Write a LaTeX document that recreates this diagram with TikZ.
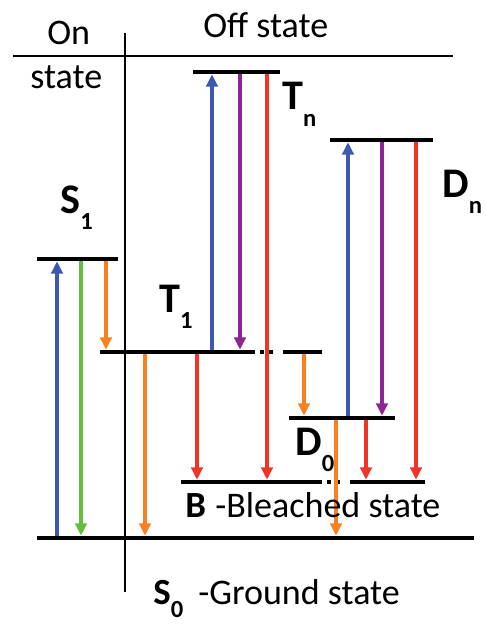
\documentclass[tikz,border=0pt]{standalone}
\usepackage{fontspec}
\setmainfont{Carlito}
\usepackage{tikz}
\usetikzlibrary{arrows.meta}
\definecolor{jab_blue}{RGB}{62,88,178}
\definecolor{jab_purple}{RGB}{140,38,150}
\definecolor{jab_red}{RGB}{240,52,38}
\definecolor{jab_orange}{RGB}{248,128,32}
\definecolor{jab_green}{RGB}{100,190,60}
\newcommand{\lowsub}[2][9.5pt]{\raisebox{-#1}{\fontsize{14}{16}\selectfont #2}}

\begin{document}
\begin{tikzpicture}[
      x=0.02cm, y=-0.02cm,
      level/.style={line width=2.6pt},
      gapline/.style={line width=2.6pt,
                      dash pattern=on 4pt off 3pt on 2pt off 3pt on 2pt off 6pt},
      arr/.style={line width=2pt, -{Triangle[length=7pt,width=6.5pt]},
                  shorten >=1.3pt, shorten <=1.3pt},
      txt/.style={font=\fontsize{20.5}{24}\selectfont, inner sep=0pt, anchor=base west},
      lab/.style={font=\bfseries\fontsize{24}{28}\selectfont, inner sep=0pt, anchor=base west},
      labsm/.style={font=\bfseries\fontsize{21}{25}\selectfont, inner sep=0pt, anchor=base west},
    ]
    \useasboundingbox (0,0) rectangle (486,625);

    % header and divider
    \draw[line width=1.1pt] (13,56) coordinate (hdw) -- (453,56) coordinate (hde);
    \draw[line width=0.8pt] (125,33) coordinate (divt) -- (125,592) coordinate (divb);
    \node[txt] (on)    at (47,45)  {On};
    \node[txt] (onst)  at (30,89)  {state};
    \node[txt] (off)   at (203,38) {Off state};

    % energy levels
    \draw[level] (37,538)  coordinate (S0w) -- (474,538) coordinate (S0e);
    \draw[level] (37,259)  coordinate (S1w) -- (118,259) coordinate (S1e);
    \draw[level] (100,352) coordinate (T1w) -- (248,352) coordinate (T1e);
    \draw[gapline] (T1e) -- (283,352) coordinate (T1bw);
    \draw[level] (T1bw) -- (322,352) coordinate (T1be);
    \draw[level] (193,72)  coordinate (Tnw) -- (280,72)  coordinate (Tne);
    \draw[level] (330,140) coordinate (Dnw) -- (433,140) coordinate (Dne);
    \draw[level] (289,418) coordinate (D0w) -- (395,418) coordinate (D0e);
    \draw[level] (181,482) coordinate (Bw)  -- (315,482) coordinate (Be);
    \draw[gapline] (Be) -- (352,482) coordinate (Bbw);
    \draw[level] (Bbw) -- (425,482) coordinate (Bbe);

    % on state transitions
    \draw[arr, jab_blue]   (S0w -| 57,0)  -- (S1w -| 57,0);
    \draw[arr, jab_green]  (S1w -| 81,0)  -- (S0w -| 81,0);
    \draw[arr, jab_orange] (S1w -| 106,0) -- (T1w -| 106,0);

    % triplet transitions
    \draw[arr, jab_orange] (T1w -| 145,0) -- (S0w -| 145,0);
    \draw[arr, jab_red]    (T1w -| 197,0) -- (Bw -| 197,0);
    \draw[arr, jab_blue]   (T1w -| 212,0) -- (Tnw -| 212,0);
    \draw[arr, jab_purple] (Tnw -| 240,0) -- (T1w -| 240,0);
    \draw[arr, jab_red]    (Tnw -| 267,0) -- (Bw -| 267,0);
    \draw[arr, jab_orange] (T1bw -| 304,0) -- (D0w -| 304,0);

    % doublet transitions
    \draw[arr, jab_blue]   (D0w -| 348,0) -- (Dnw -| 348,0);
    \draw[arr, jab_purple] (Dnw -| 382,0) -- (D0w -| 382,0);
    \draw[arr, jab_orange] (D0w -| 336,0) -- (S0w -| 336,0);
    \draw[arr, jab_red]    (D0w -| 366,0) -- (Bw -| 366,0);
    \draw[arr, jab_red]    (Dnw -| 416,0) -- (Bw -| 416,0);

    % level labels
    \node[lab] (lblS1) at (60,213)  {S\lowsub{1}};
    \node[lab] (lblT1) at (159,312) {T\lowsub{1}};
    \node[lab] (lblTn) at (282,110) {T\lowsub{n}};
    \node[lab] (lblDn) at (442,197) {D\lowsub{n}};
    \node[lab] (lblD0) at (295,455) {D\lowsub{0}};
    \node[labsm] (lblB)  at (185,517) {B};
    \node[txt]   (txtB)  at (215,517) {-Bleached state};
    \node[labsm] (lblS0) at (153,604) {S\lowsub[7.5pt]{0}};
    \node[txt]   (txtS0) at (198,604) {-Ground state};
  \end{tikzpicture}
\end{document}
